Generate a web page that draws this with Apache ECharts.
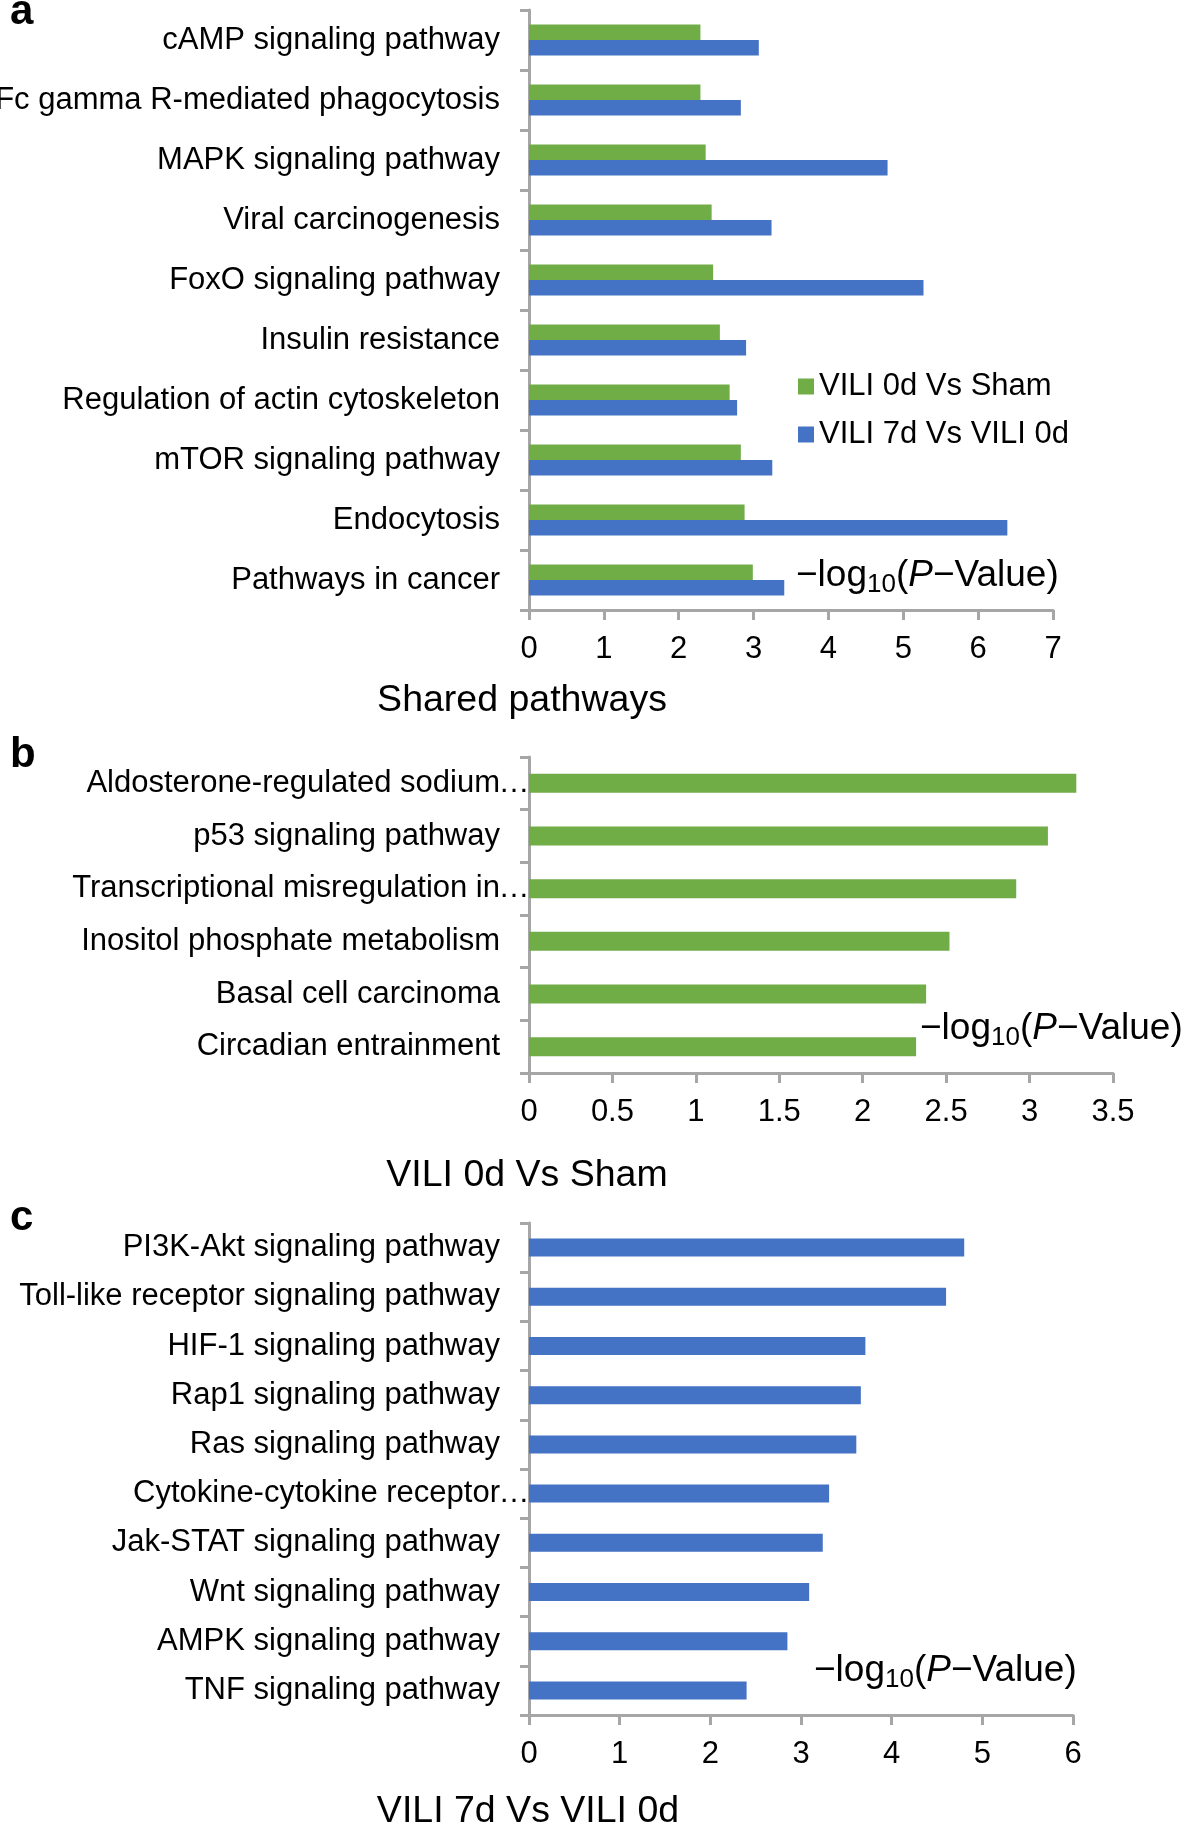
<!DOCTYPE html>
<html>
<head>
<meta charset="utf-8">
<script src="https://cdn.jsdelivr.net/npm/echarts@6/dist/echarts.min.js"></script>
<style>
  html, body { margin: 0; padding: 0; background: #fff; }
  #chart { width: 1181px; height: 1823px; }
</style>
</head>
<body>
<div id="chart"></div>
<script>
// panel a - shared pathways (top to bottom)
var sharedNames = ['cAMP signaling pathway', 'Fc gamma R-mediated phagocytosis', 'MAPK signaling pathway',
  'Viral carcinogenesis', 'FoxO signaling pathway', 'Insulin resistance', 'Regulation of actin cytoskeleton',
  'mTOR signaling pathway', 'Endocytosis', 'Pathways in cancer'];
var shared0d = [2.29, 2.29, 2.36, 2.44, 2.46, 2.55, 2.68, 2.83, 2.88, 2.99];
var shared7d = [3.07, 2.83, 4.79, 3.24, 5.27, 2.90, 2.78, 3.25, 6.39, 3.41];

// panel b - VILI 0d Vs Sham
var shamNames = ['Aldosterone-regulated sodium…', 'p53 signaling pathway', 'Transcriptional misregulation in…',
  'Inositol phosphate metabolism', 'Basal cell carcinoma', 'Circadian entrainment'];
var shamValues = [3.28, 3.11, 2.92, 2.52, 2.38, 2.32];

// panel c - VILI 7d Vs VILI 0d
var d7Names = ['PI3K-Akt signaling pathway', 'Toll-like receptor signaling pathway', 'HIF-1 signaling pathway',
  'Rap1 signaling pathway', 'Ras signaling pathway', 'Cytokine-cytokine receptor…', 'Jak-STAT signaling pathway',
  'Wnt signaling pathway', 'AMPK signaling pathway', 'TNF signaling pathway'];
var d7Values = [4.80, 4.60, 3.71, 3.66, 3.61, 3.31, 3.24, 3.09, 2.85, 2.40];

var seriesNames = ['VILI 0d Vs Sham', 'VILI 7d Vs VILI 0d'];
var xMax = [7, 3.5, 6];
var xStep = [1, 0.5, 1];

var GREEN = '#70ad47';
var BLUE = '#4472c4';
var AXIS = '#a6a6a6';
var FONT = "'Liberation Sans', Arial, Helvetica, sans-serif";

var chart = echarts.init(document.getElementById('chart'));

function catLabel(v) {
  // excel-style truncated labels hang their ellipsis over the axis
  if (v.slice(-1) === '…') return v.slice(0, -1) + '{el|…}';
  return v + '{sp| }';
}

function xAxisCfg(i) {
  return {
    type: 'value', gridIndex: i, min: 0, max: xMax[i], interval: xStep[i],
    axisLine: { show: true, lineStyle: { color: AXIS, width: 3 } },
    axisTick: { show: true, length: 10, lineStyle: { color: AXIS, width: 3 } },
    splitLine: { show: false },
    axisLabel: { fontSize: 31, color: '#000', fontFamily: FONT, margin: 24 }
  };
}

function yAxisCfg(i, names) {
  return {
    type: 'category', gridIndex: i, data: names, inverse: true,
    axisLine: { show: true, lineStyle: { color: AXIS, width: 3 } },
    axisTick: { show: true, length: 9, lineStyle: { color: AXIS, width: 3 } },
    axisLabel: {
      fontSize: 31, color: '#000', fontFamily: FONT, margin: 1,
      formatter: catLabel,
      rich: {
        sp: { width: 28, fontSize: 31 },
        el: { width: 28, fontSize: 31, color: '#000', align: 'left' }
      }
    }
  };
}

function logText(x, y) {
  return {
    type: 'text', left: x, top: y,
    style: {
      text: '−log{sub|10}({it|P}−Value)',
      font: '37px ' + FONT, fill: '#000',
      rich: {
        sub: { fontSize: 26, fontFamily: FONT, padding: [18, 0, 0, 0] },
        it: { fontSize: 37, fontFamily: FONT, fontStyle: 'italic' }
      }
    }
  };
}

function label(txt, x, y, size, bold, align) {
  return {
    type: 'text', x: x, y: y,
    style: {
      text: txt, fill: '#000', font: (bold ? 'bold ' : '') + size + 'px ' + FONT,
      align: align || 'center', verticalAlign: 'middle'
    }
  };
}

var option = {
  backgroundColor: '#fff',
  animation: false,
  legend: {
    data: seriesNames, orient: 'vertical', left: 798, top: 371, padding: 0,
    icon: 'rect', itemWidth: 16, itemHeight: 16, itemGap: 17,
    textStyle: { fontSize: 31, color: '#000', fontFamily: FONT }
  },
  grid: [
    { left: 529, top: 10, width: 524, height: 600, outerBoundsMode: 'none', containLabel: false },
    { left: 529, top: 757, width: 584, height: 316, outerBoundsMode: 'none', containLabel: false },
    { left: 529, top: 1223, width: 544, height: 492, outerBoundsMode: 'none', containLabel: false }
  ],
  xAxis: [xAxisCfg(0), xAxisCfg(1), xAxisCfg(2)],
  yAxis: [yAxisCfg(0, sharedNames), yAxisCfg(1, shamNames), yAxisCfg(2, d7Names)],
  series: [
    { name: seriesNames[0], type: 'bar', xAxisIndex: 0, yAxisIndex: 0, data: shared0d,
      barWidth: 15.5, barGap: '0%', itemStyle: { color: GREEN } },
    { name: seriesNames[1], type: 'bar', xAxisIndex: 0, yAxisIndex: 0, data: shared7d,
      barWidth: 15.5, barGap: '0%', itemStyle: { color: BLUE } },
    { name: seriesNames[0], type: 'bar', xAxisIndex: 1, yAxisIndex: 1, data: shamValues,
      barWidth: 19, itemStyle: { color: GREEN } },
    { name: seriesNames[1], type: 'bar', xAxisIndex: 2, yAxisIndex: 2, data: d7Values,
      barWidth: 18, itemStyle: { color: BLUE } }
  ],
  graphic: [
    label('a', 10, 12, 42, true, 'left'),
    label('b', 10, 755, 42, true, 'left'),
    label('c', 10, 1218, 42, true, 'left'),
    label('Shared pathways', 522, 701, 37.5),
    label('VILI 0d Vs Sham', 527, 1176, 37.5),
    label('VILI 7d Vs VILI 0d', 528, 1812, 37.5),
    logText(796, 557),
    logText(920, 1010),
    logText(814, 1652)
  ]
};

chart.setOption(option);
</script>
</body>
</html>
